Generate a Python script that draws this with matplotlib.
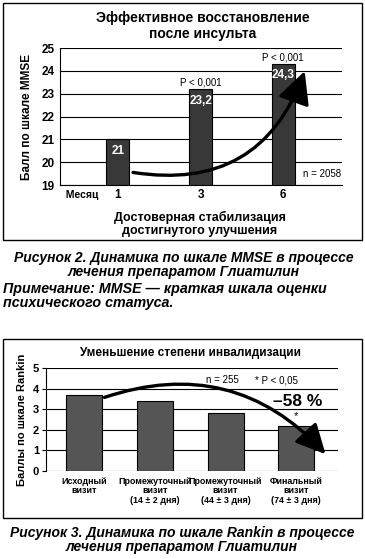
import matplotlib
matplotlib.use("Agg")
import matplotlib.pyplot as plt
from matplotlib.patches import Rectangle

# data, chart 1 (MMSE)
months = ["1", "3", "6"]
mmse = [21, 23.2, 24.3]
mmse_labels = ["21", "23,2", "24,3"]
mmse_p = ["", "P < 0,001", "P < 0,001"]

# data, chart 2 (Rankin)
visits = ["Исходный\nвизит", "Промежуточный\nвизит\n(14 ± 2 дня)",
          "Промежуточный\nвизит\n(44 ± 3 дня)", "Финальный\nвизит\n(74 ± 3 дня)"]
rankin = [3.7, 3.4, 2.8, 2.2]

plt.rcParams['font.family'] = ['Liberation Sans', 'DejaVu Sans']

W, H = 365, 559
fig = plt.figure(figsize=(W / 100, H / 100), dpi=100)


def px(x, y):
    return x / W, 1 - y / H


def box(x0, y0, x1, y1):
    fig.patches.append(Rectangle(px(x0, y1), (x1 - x0) / W, (y1 - y0) / H,
                                 transform=fig.transFigure, fill=False,
                                 edgecolor='black', lw=1.0))


# ---- chart 1 ----
box(3, 3, 362, 240)
ax1 = fig.add_axes([60 / W, 1 - 185 / H, 282 / W, 137 / H])
x1 = range(len(months))
ax1.bar(x1, [v - 19 for v in mmse], bottom=19, width=0.28, color='#383838',
        edgecolor='black', lw=0.8, zorder=3)
ax1.set_ylim(19, 25)
ax1.set_xlim(-0.70, 2.71)
ax1.set_yticks(range(19, 26))
ax1.set_yticklabels([str(t) for t in range(19, 26)], fontweight='bold', fontsize=8.5)
ax1.set_xticks([])
ax1.tick_params(axis='y', length=0, pad=4)
ax1.grid(axis='y', color='black', lw=0.8, zorder=0)
for s in ['top', 'right']:
    ax1.spines[s].set_visible(False)
ax1.spines['left'].set_linewidth(0.8)
ax1.spines['bottom'].set_linewidth(0.8)
for i, v in enumerate(mmse):
    ax1.text(i, v - 0.5, mmse_labels[i], color='white', fontweight='bold',
             fontsize=8.5, ha='center', va='center', zorder=4)
    if mmse_p[i]:
        ax1.text(i, v + 0.3, mmse_p[i], ha='center', va='center', fontsize=7)
    ax1.text(i, 18.55, months[i], ha='center', va='center', fontsize=8.5,
             fontweight='bold')
ax1.text(-0.70, 18.55, "  Месяц", ha='left', va='center', fontsize=7.5, fontweight='bold')
ax1.text(2.47, 19.5, "n = 2058", ha='center', va='center', fontsize=7)
ax1.annotate("", xy=(2.27, 24.1), xytext=(0.15, 19.57),
             arrowprops=dict(arrowstyle='-|>,head_length=0.9,head_width=0.45',
                             connectionstyle='arc3,rad=0.42', lw=2.4,
                             color='black', mutation_scale=22), zorder=5)
ax1.set_ylabel("Балл по шкале MMSE", fontweight='bold', fontsize=8.5, labelpad=6)

fig.text(*px(203, 26), "Эффективное восстановление\nпосле инсульта", ha='center',
         va='center', fontweight='bold', fontsize=10, linespacing=1.25)
fig.text(*px(200, 224), "Достоверная стабилизация\nдостигнутого улучшения",
         ha='center', va='center', fontweight='bold', fontsize=9, linespacing=1.05)

fig.text(*px(184, 265), "Рисунок 2. Динамика по шкале MMSE в процессе\nлечения препаратом Глиатилин",
         ha='center', va='center', fontweight='bold', style='italic', fontsize=10,
         linespacing=1.0)
fig.text(*px(3, 296), "Примечание: MMSE — краткая шкала оценки\nпсихического статуса.",
         ha='left', va='center', fontweight='bold', style='italic', fontsize=10.3,
         linespacing=0.95)

# ---- chart 2 ----
box(3, 339, 362, 518)
ax2 = fig.add_axes([46 / W, 1 - 471 / H, 292 / W, 103 / H])
x2 = range(len(visits))
ax2.bar(x2, rankin, width=0.51, color='#555555', edgecolor='black', lw=0.8, zorder=3)
ax2.set_ylim(0, 5)
ax2.set_xlim(-0.54, 3.59)
ax2.set_yticks(range(0, 6))
ax2.set_yticklabels([str(t) for t in range(0, 6)], fontweight='bold', fontsize=8)
ax2.tick_params(axis='y', length=3, width=0.8, pad=2)
ax2.set_xticks(list(x2))
ax2.set_xticklabels(visits, fontsize=6.4, fontweight='bold', linespacing=1.1)
ax2.tick_params(axis='x', length=0, pad=4)
ax2.grid(axis='y', color='black', lw=0.8, zorder=0)
for s in ['top', 'right', 'bottom']:
    ax2.spines[s].set_visible(False)
ax2.spines['left'].set_linewidth(0.8)
ax2.set_ylabel("Баллы по шкале Rankin", fontweight='bold', fontsize=8, labelpad=4)
ax2.text(1.95, 4.4, "n = 255", ha='center', va='center', fontsize=7)
ax2.text(2.72, 4.4, "* P < 0,05", ha='center', va='center', fontsize=7)
ax2.text(3.02, 3.35, "–58 %", ha='center', va='center', fontsize=12.5, fontweight='bold')
ax2.text(3, rankin[3] + 0.45, "*", ha='center', va='center', fontsize=8)
ax2.annotate("", xy=(3.44, 0.72), xytext=(0.25, 3.53),
             arrowprops=dict(arrowstyle='-|>,head_length=0.9,head_width=0.45',
                             connectionstyle='arc3,rad=-0.33', lw=2.4,
                             color='black', mutation_scale=20), zorder=5)

fig.text(*px(190, 353), "Уменьшение степени инвалидизации", ha='center', va='center',
         fontweight='bold', fontsize=8.5)
fig.text(*px(182, 540), "Рисунок 3. Динамика по шкале Rankin в процессе\nлечения препаратом Глиатилин",
         ha='center', va='center', fontweight='bold', style='italic', fontsize=10,
         linespacing=1.0)

fig.savefig("out.png", dpi=100)
